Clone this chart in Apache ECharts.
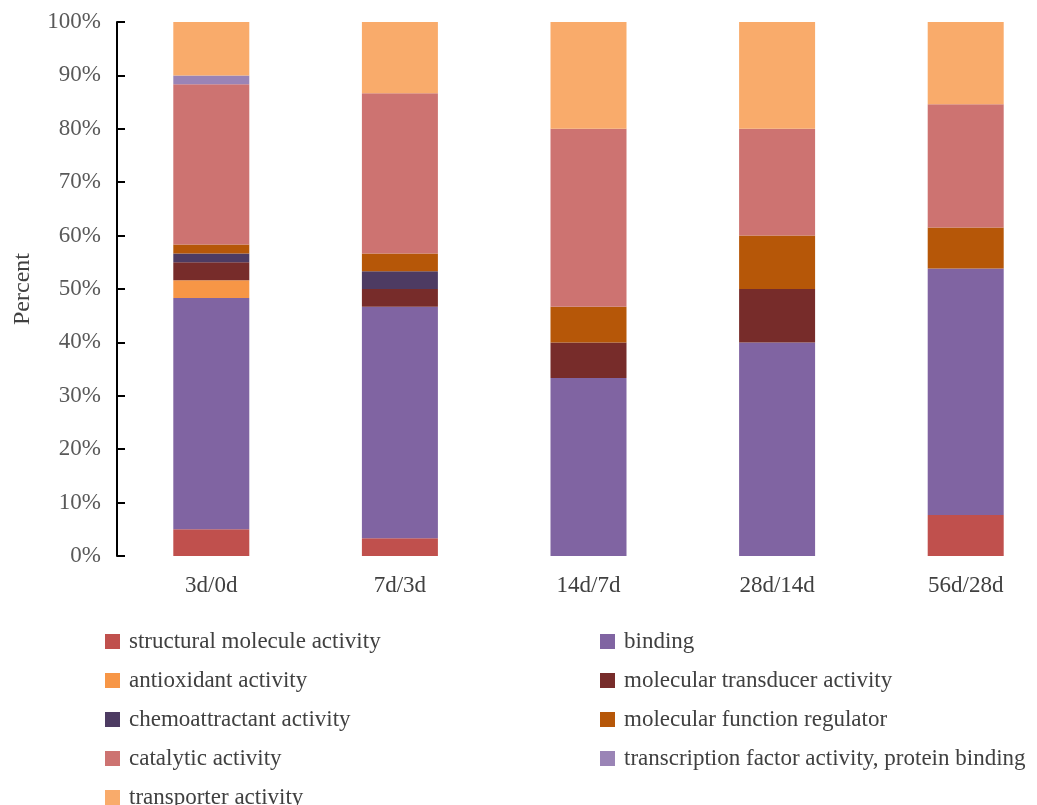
<!DOCTYPE html>
<html><head><meta charset="utf-8">
<script src="https://cdn.jsdelivr.net/npm/echarts@6/dist/echarts.min.js"></script>
<style>html,body{margin:0;padding:0;background:#fff}#c{width:1037px;height:805px}</style>
</head><body><div id="c"></div>
<script>
const categories = ['3d/0d','7d/3d','14d/7d','28d/14d','56d/28d'];
const yTicks = [0,10,20,30,40,50,60,70,80,90,100];
const structural = [5.0, 3.33, 0, 0, 7.69];
const binding = [43.33, 43.33, 33.33, 40, 46.15];
const antioxidant = [3.33, 0, 0, 0, 0];
const transducer = [3.33, 3.33, 6.67, 10, 0];
const chemoattractant = [1.67, 3.33, 0, 0, 0];
const regulator = [1.67, 3.33, 6.67, 10, 7.69];
const catalytic = [30, 30, 33.33, 20, 23.08];
const transcription = [1.67, 0, 0, 0, 0];
const transporter = [10, 13.33, 20, 20, 15.39];

const seriesDefs = [
  ['structural molecule activity', structural, '#C0504D'],
  ['binding', binding, '#8064A2'],
  ['antioxidant activity', antioxidant, '#F79646'],
  ['molecular transducer activity', transducer, '#772C2A'],
  ['chemoattractant activity', chemoattractant, '#4D3B62'],
  ['molecular function regulator', regulator, '#B65708'],
  ['catalytic activity', catalytic, '#CD7371'],
  ['transcription factor activity, protein binding', transcription, '#9A84B6'],
  ['transporter activity', transporter, '#F9AB6B']
];
const font = '"Liberation Serif", "Times New Roman", serif';
const chart = echarts.init(document.getElementById('c'));
const legendText = {fontFamily: font, fontSize: 23, color: '#404040', padding: [0, 0, 0, 4]};
chart.setOption({
  animation: false,
  textStyle: {fontFamily: font},
  grid: {left: 117, top: 22, width: 943, height: 534, outerBoundsMode: 'none', containLabel: false},
  legend: [
    {orient: 'vertical', left: 105, top: 630, height: 200, padding: 0, itemWidth: 15, itemHeight: 15, itemGap: 16, textStyle: legendText, icon: 'rect',
     data: ['structural molecule activity','antioxidant activity','chemoattractant activity','catalytic activity','transporter activity']},
    {orient: 'vertical', left: 600, top: 630, height: 200, padding: 0, itemWidth: 15, itemHeight: 15, itemGap: 16, textStyle: legendText, icon: 'rect',
     data: ['binding','molecular transducer activity','molecular function regulator','transcription factor activity, protein binding']}
  ],
  xAxis: {
    type: 'category', data: categories,
    axisLine: {show: false}, axisTick: {show: false},
    axisLabel: {fontFamily: font, fontSize: 23, color: '#404040', margin: 18}
  },
  yAxis: {
    type: 'value', min: 0, max: 100, interval: 10,
    name: 'Percent', nameLocation: 'middle', nameGap: 82, nameRotate: 90,
    nameTextStyle: {fontFamily: font, fontSize: 24, color: '#404040'},
    axisLine: {show: true, lineStyle: {color: '#000', width: 2}},
    axisTick: {show: true, inside: true, length: 8, lineStyle: {color: '#000', width: 2}},
    splitLine: {show: false},
    axisLabel: {fontFamily: font, fontSize: 23, color: '#595959', margin: 16,
      formatter: v => yTicks.includes(v) ? v + '%' : ''}
  },
  series: seriesDefs.map(([name, data, color]) => ({
    name, type: 'bar', stack: 'total', data, barWidth: 76,
    itemStyle: {color}
  }))
});
</script></body></html>
